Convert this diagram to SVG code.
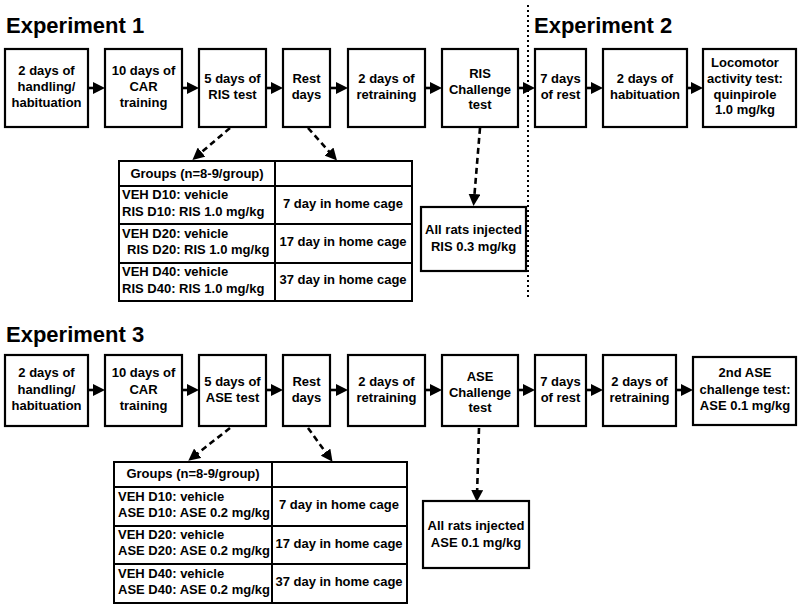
<svg xmlns="http://www.w3.org/2000/svg" width="800" height="609" viewBox="0 0 800 609">
<defs>
<style>
.box{fill:#fff;stroke:#000;stroke-width:2.2}
.t{font-family:"Liberation Sans",Arial,sans-serif;font-weight:bold;font-size:13px;fill:#000;text-anchor:middle}
.l{text-anchor:start}
.title{font-family:"Liberation Sans",Arial,sans-serif;font-weight:bold;font-size:22px;fill:#000}
.solid{stroke:#000;stroke-width:2.6;fill:none;marker-end:url(#ah)}
.dash{stroke:#000;stroke-width:2.6;fill:none;stroke-dasharray:6 4;marker-end:url(#ah)}
.grid{stroke:#000;stroke-width:2;fill:none}
</style>
<marker id="ah" viewBox="0 0 12 12" markerWidth="12" markerHeight="12" refX="6" refY="6" orient="auto" markerUnits="userSpaceOnUse">
<path d="M0,0 L12,6 L0,12 z" fill="#000"/>
</marker>
</defs>
<rect width="800" height="609" fill="#fff"/>

<text class="title" x="6" y="33">Experiment 1</text>
<text class="title" x="534" y="33">Experiment 2</text>
<text class="title" x="6" y="342">Experiment 3</text>

<line x1="528" y1="5" x2="528" y2="297" stroke="#000" stroke-width="2" stroke-dasharray="2 3"/>

<g id="connectors">
<line class="solid" x1="88" y1="88" x2="99" y2="88"/>
<line class="solid" x1="182" y1="88" x2="193" y2="88"/>
<line class="solid" x1="266" y1="88" x2="277" y2="88"/>
<line class="solid" x1="330" y1="88" x2="342" y2="88"/>
<line class="solid" x1="425" y1="88" x2="436" y2="88"/>
<line class="solid" x1="518" y1="88" x2="529" y2="88"/>
<line class="solid" x1="586" y1="88" x2="597" y2="88"/>
<line class="solid" x1="687" y1="88" x2="697" y2="88"/>
<line class="dash" x1="230" y1="128" x2="197" y2="156"/>
<line class="dash" x1="308" y1="128" x2="333" y2="156"/>
<line class="dash" x1="480" y1="128" x2="474" y2="200"/>

<line class="solid" x1="88" y1="390" x2="99" y2="390"/>
<line class="solid" x1="182" y1="390" x2="193" y2="390"/>
<line class="solid" x1="266" y1="390" x2="277" y2="390"/>
<line class="solid" x1="330" y1="390" x2="342" y2="390"/>
<line class="solid" x1="425" y1="390" x2="436" y2="390"/>
<line class="solid" x1="518" y1="390" x2="529" y2="390"/>
<line class="solid" x1="586" y1="390" x2="597" y2="390"/>
<line class="solid" x1="676" y1="390" x2="687" y2="390"/>
<line class="dash" x1="230" y1="428" x2="193" y2="457"/>
<line class="dash" x1="308" y1="428" x2="329" y2="457"/>
<line class="dash" x1="479" y1="428" x2="477" y2="496"/>
</g>

<g id="e1-handling"><rect class="box" x="5" y="49" width="83" height="78"/>
<text class="t" x="46.5" y="75">2 days of</text><text class="t" x="46.5" y="91">handling/</text><text class="t" x="46.5" y="107">habituation</text></g>
<g id="e1-car"><rect class="box" x="105" y="49" width="77" height="78"/>
<text class="t" x="143.5" y="75">10 days of</text><text class="t" x="143.5" y="91">CAR</text><text class="t" x="143.5" y="107">training</text></g>
<g id="e1-ris"><rect class="box" x="199" y="49" width="67" height="78"/>
<text class="t" x="232.5" y="83">5 days of</text><text class="t" x="232.5" y="99">RIS test</text></g>
<g id="e1-rest"><rect class="box" x="283" y="49" width="47" height="78"/>
<text class="t" x="306.5" y="83">Rest</text><text class="t" x="306.5" y="99">days</text></g>
<g id="e1-retrain"><rect class="box" x="348" y="49" width="77" height="78"/>
<text class="t" x="386.5" y="83">2 days of</text><text class="t" x="386.5" y="99">retraining</text></g>
<g id="e1-challenge"><rect class="box" x="442" y="49" width="76" height="78"/>
<text class="t" x="480" y="78">RIS</text><text class="t" x="480" y="94">Challenge</text><text class="t" x="480" y="109">test</text></g>
<g id="e2-rest"><rect class="box" x="535" y="49" width="51" height="78"/>
<text class="t" x="560.5" y="83">7 days</text><text class="t" x="560.5" y="99">of rest</text></g>
<g id="e2-habituation"><rect class="box" x="603" y="49" width="84" height="78"/>
<text class="t" x="645" y="83">2 days of</text><text class="t" x="645" y="99">habituation</text></g>
<g id="e2-locomotor"><rect class="box" x="703" y="49" width="93" height="78"/>
<text class="t" x="745" y="67">Locomotor</text><text class="t" x="745" y="83">activity test:</text><text class="t" x="745" y="99">quinpirole</text><text class="t" x="745" y="114">1.0 mg/kg</text></g>

<g id="e1-groups">
<rect class="grid" x="119" y="161" width="293" height="140"/>
<line class="grid" x1="275" y1="161" x2="275" y2="301"/>
<line class="grid" x1="119" y1="186" x2="412" y2="186"/>
<line class="grid" x1="119" y1="224" x2="412" y2="224"/>
<line class="grid" x1="119" y1="263" x2="412" y2="263"/>
<text class="t" x="197" y="178">Groups (n=8-9/group)</text>
<text class="t l" x="122" y="199">VEH D10: vehicle</text>
<text class="t l" x="122" y="216">RIS D10: RIS 1.0 mg/kg</text>
<text class="t" x="343" y="208">7 day in home cage</text>
<text class="t l" x="122" y="238">VEH D20: vehicle</text>
<text class="t l" x="127" y="254">RIS D20: RIS 1.0 mg/kg</text>
<text class="t" x="343" y="246">17 day in home cage</text>
<text class="t l" x="122" y="276">VEH D40: vehicle</text>
<text class="t l" x="122" y="293">RIS D40: RIS 1.0 mg/kg</text>
<text class="t" x="343" y="284">37 day in home cage</text>
</g>
<g id="e1-injected"><rect class="box" x="421" y="207" width="105" height="64"/>
<text class="t" x="473.5" y="234">All rats injected</text><text class="t" x="473.5" y="251">RIS 0.3 mg/kg</text></g>

<g id="e3-handling"><rect class="box" x="5" y="355" width="83" height="71"/>
<text class="t" x="46.5" y="377">2 days of</text><text class="t" x="46.5" y="394">handling/</text><text class="t" x="46.5" y="410">habituation</text></g>
<g id="e3-car"><rect class="box" x="105" y="355" width="77" height="71"/>
<text class="t" x="143.5" y="377">10 days of</text><text class="t" x="143.5" y="394">CAR</text><text class="t" x="143.5" y="410">training</text></g>
<g id="e3-ase"><rect class="box" x="199" y="355" width="67" height="71"/>
<text class="t" x="232.5" y="386">5 days of</text><text class="t" x="232.5" y="402">ASE test</text></g>
<g id="e3-rest"><rect class="box" x="283" y="355" width="47" height="71"/>
<text class="t" x="306.5" y="386">Rest</text><text class="t" x="306.5" y="402">days</text></g>
<g id="e3-retrain"><rect class="box" x="348" y="355" width="77" height="71"/>
<text class="t" x="386.5" y="386">2 days of</text><text class="t" x="386.5" y="402">retraining</text></g>
<g id="e3-challenge"><rect class="box" x="442" y="355" width="76" height="71"/>
<text class="t" x="480" y="381">ASE</text><text class="t" x="480" y="397">Challenge</text><text class="t" x="480" y="412">test</text></g>
<g id="e3-rest7"><rect class="box" x="535" y="355" width="51" height="71"/>
<text class="t" x="560.5" y="386">7 days</text><text class="t" x="560.5" y="402">of rest</text></g>
<g id="e3-retrain2"><rect class="box" x="603" y="355" width="73" height="71"/>
<text class="t" x="639.5" y="386">2 days of</text><text class="t" x="639.5" y="402">retraining</text></g>
<g id="e3-challenge2"><rect class="box" x="693" y="357" width="103" height="68"/>
<text class="t" x="745" y="377">2nd ASE</text><text class="t" x="745" y="394">challenge test:</text><text class="t" x="745" y="410">ASE 0.1 mg/kg</text></g>

<g id="e3-groups">
<rect class="grid" x="114" y="462" width="293" height="141"/>
<line class="grid" x1="272" y1="462" x2="272" y2="603"/>
<line class="grid" x1="114" y1="487" x2="407" y2="487"/>
<line class="grid" x1="114" y1="526" x2="407" y2="526"/>
<line class="grid" x1="114" y1="564" x2="407" y2="564"/>
<text class="t" x="193" y="478">Groups (n=8-9/group)</text>
<text class="t l" x="118" y="501">VEH D10: vehicle</text>
<text class="t l" x="118" y="517">ASE D10: ASE 0.2 mg/kg</text>
<text class="t" x="339" y="509">7 day in home cage</text>
<text class="t l" x="118" y="539">VEH D20: vehicle</text>
<text class="t l" x="118" y="555">ASE D20: ASE 0.2 mg/kg</text>
<text class="t" x="339" y="548">17 day in home cage</text>
<text class="t l" x="118" y="578">VEH D40: vehicle</text>
<text class="t l" x="118" y="594">ASE D40: ASE 0.2 mg/kg</text>
<text class="t" x="339" y="586">37 day in home cage</text>
</g>
<g id="e3-injected"><rect class="box" x="423" y="501" width="106" height="67"/>
<text class="t" x="476" y="530">All rats injected</text><text class="t" x="476" y="547">ASE 0.1 mg/kg</text></g>
</svg>
